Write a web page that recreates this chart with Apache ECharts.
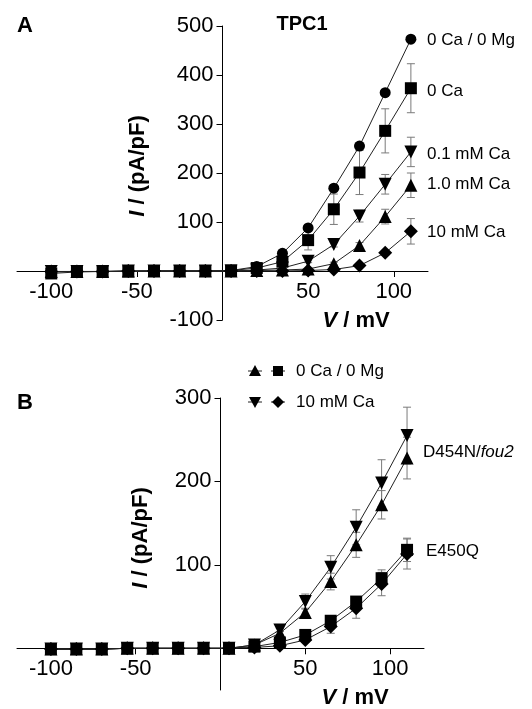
<!DOCTYPE html>
<html>
<head>
<meta charset="utf-8">
<script src="https://cdn.jsdelivr.net/npm/echarts@6/dist/echarts.min.js"></script>
<style>
html,body{margin:0;padding:0;background:#fff;}
#c{width:532px;height:709px;}
</style>
</head>
<body>
<div id="c"></div>
<script>
// ---- data ----
const voltage = [-100,-85,-70,-55,-40,-25,-10,5,20,35,50,65,80,95,110];

// Panel A (TPC1)
const a0Ca0Mg     = [-2,-1,-1,-1,0,0,0,1,9,36,88,169,255,364,473];
const a0Ca        = [-5,-2,-1,-1,0,0,0,1,6,19,63,126,201,286,373];
const a0CaErr     = [0,0,0,0,0,0,0,0,3,5,20,31,45,45,50];
const a01mMCa     = [-1,-1,-1,0,0,0,0,0,2,6,20,54,112,177,243];
const a01mMCaErr  = [0,0,0,0,0,0,0,0,0,0,3,5,12,20,30];
const a10mMCa1    = [-1,-1,-1,0,0,0,0,0,1,2,4,15,52,111,175];
const a10mMCa1Err = [0,0,0,0,0,0,0,0,0,0,0,3,6,15,25];
const a10mMCa     = [-1,-1,-1,0,0,0,0,0,0,0,1,3,11,37,81];
const a10mMCaErr  = [0,0,0,0,0,0,0,0,0,0,0,0,2,5,26];

// Panel B (mutants)
const bD454N0Ca     = [-1,-1,-1,0,0,0,0,0,4,18,43,80,124,172,228];
const bD454N0CaErr  = [0,0,0,0,0,0,0,0,0,2,5,10,15,17,25];
const bD454N10      = [-1,-1,-1,0,0,0,0,0,4,22,56,97,145,198,255];
const bD454N10Err   = [0,0,0,0,0,0,0,0,0,2,9,14,21,28,34];
const bE450Q0Ca     = [-1,-1,-1,0,0,0,0,0,2,7,16,33,56,84,118];
const bE450Q0CaErr  = [0,0,0,0,0,0,0,0,0,1,2,4,5,10,14];
const bE450Q10      = [-1,-1,-1,0,0,0,0,0,1,3,10,26,48,77,113];
const bE450Q10Err   = [0,0,0,0,0,0,0,0,0,1,3,8,12,14,18];

// tick labels
const xTickValues  = [-100,-50,50,100];
const yTickValuesA = [-100,100,200,300,400,500];
const yTickValuesB = [100,200,300];

// series labels
const seriesLabelsA = ['0 Ca / 0 Mg','0 Ca','0.1 mM Ca','1.0 mM Ca','10 mM Ca'];
const seriesLabelsB = ['D454N/{i|fou2}','E450Q'];
const legendLabelsB = ['0 Ca / 0 Mg','10 mM Ca'];

// ---- chart ----
const FONT = '"Liberation Sans", Arial, sans-serif';
const downTri = 'path://M0,0 L10,0 L5,9 Z';

const X_MIN = -120, X_MAX = 120;
const gridA = {left:17, top:26, width:411, height:294};
const gridB = {left:17, top:398, width:407, height:292};
const yRangeA = [-100, 500];
const yRangeB = [-50, 300];

function pts(arr){ return voltage.map((v,i)=>[v,arr[i]]); }
function errPts(arr,err){ return voltage.map((v,i)=>[v,arr[i],err[i]]); }

function lineSeries(idx, arr, symbol, size){
  return {
    type:'line', xAxisIndex:idx, yAxisIndex:idx, data:pts(arr),
    symbol:symbol, symbolSize:size, showAllSymbol:true,
    lineStyle:{color:'#222', width:1}, itemStyle:{color:'#000', borderWidth:0},
    z:5, silent:true
  };
}
function errSeries(idx, arr, err){
  return {
    type:'custom', xAxisIndex:idx, yAxisIndex:idx, data:errPts(arr,err), z:3, silent:true,
    renderItem:function(params, api){
      const x=api.value(0), y=api.value(1), e=api.value(2);
      if(!e) return null;
      const t=api.coord([x,y+e]), b=api.coord([x,y-e]);
      const hw=4;
      const st={stroke:'#7a7a7a', lineWidth:1};
      return {type:'group', children:[
        {type:'line', shape:{x1:t[0],y1:t[1],x2:b[0],y2:b[1]}, style:st},
        {type:'line', shape:{x1:t[0]-hw,y1:t[1],x2:t[0]+hw,y2:t[1]}, style:st},
        {type:'line', shape:{x1:b[0]-hw,y1:b[1],x2:b[0]+hw,y2:b[1]}, style:st}
      ]};
    }
  };
}

// axes crossing at zero: shift the axes inward by the position of zero
function xAxisCfg(idx, grid, yr){
  const zeroFromBottom = grid.height * (0 - yr[0]) / (yr[1] - yr[0]);
  return {
    type:'value', gridIndex:idx, min:X_MIN, max:X_MAX, position:'bottom', offset:-zeroFromBottom,
    axisLine:{show:true, onZero:false, lineStyle:{color:'#000', width:1}},
    axisTick:{show:true, length:6, customValues:xTickValues, lineStyle:{color:'#000'}},
    axisLabel:{show:true, customValues:xTickValues, fontSize:22, color:'#000', fontFamily:FONT, margin:10},
    splitLine:{show:false}
  };
}
function yAxisCfg(idx, grid, yr, ticks){
  const zeroFromLeft = grid.width * (0 - X_MIN) / (X_MAX - X_MIN);
  return {
    type:'value', gridIndex:idx, min:yr[0], max:yr[1], position:'left', offset:-zeroFromLeft,
    axisLine:{show:true, onZero:false, lineStyle:{color:'#000', width:1}},
    axisTick:{show:true, length:6, customValues:ticks, lineStyle:{color:'#000'}},
    axisLabel:{show:true, customValues:ticks, fontSize:22, color:'#000', fontFamily:FONT, margin:9},
    splitLine:{show:false}
  };
}

function txt(x,y,text,opts){
  return {type:'text', x:x, y:y, z:10, silent:true,
    style:Object.assign({text:text, fill:'#000', fontFamily:FONT, fontSize:17,
      align:'left', verticalAlign:'middle', textAlign:'left', textVerticalAlign:'middle',
      rich:{i:{fontStyle:'italic', fontFamily:FONT, fontSize:17, fill:'#000'}}}, opts||{})};
}
function titleTxt(x,y,text,rot){
  const o = {type:'text', x:x, y:y, z:10, silent:true, style:{text:text, fill:'#000', fontFamily:FONT, fontSize:22, fontWeight:'bold',
    align:'center', verticalAlign:'middle', textAlign:'center', textVerticalAlign:'middle',
    rich:{i:{fontStyle:'italic', fontWeight:'bold', fontFamily:FONT, fontSize:22, fill:'#000'}}}};
  if (rot) o.rotation = rot;
  return o;
}
function legLine(x, y){
  return {type:'line', z:10, silent:true, shape:{x1:x-7,y1:y,x2:x+7,y2:y}, style:{stroke:'#222', lineWidth:1}};
}

const chart = echarts.init(document.getElementById('c'), null, {renderer:'canvas'});

const graphics = [
  txt(17,26,'A',{fontSize:22, fontWeight:'bold'}),
  txt(17,403,'B',{fontSize:22, fontWeight:'bold'}),
  txt(302,24,'TPC1',{fontSize:20, fontWeight:'bold', align:'center', textAlign:'center'}),
  // series labels A
  txt(427,40,seriesLabelsA[0]),
  txt(427,91,seriesLabelsA[1]),
  txt(427,154,seriesLabelsA[2]),
  txt(427,184,seriesLabelsA[3]),
  txt(427,232,seriesLabelsA[4]),
  // series labels B
  txt(423,452,seriesLabelsB[0]),
  txt(426,551,seriesLabelsB[1]),
  // axis titles
  titleTxt(138,166,'{i|I} / (pA/pF)',Math.PI/2),
  titleTxt(356,321,'{i|V} / mV'),
  titleTxt(141,538,'{i|I} / (pA/pF)',Math.PI/2),
  titleTxt(355,698,'{i|V} / mV'),
  // legend B row 1
  legLine(255,371), legLine(278,371),
  {type:'polygon', z:11, silent:true, shape:{points:[[255,365],[261,376],[249,376]]}, style:{fill:'#000'}},
  {type:'rect', z:11, silent:true, shape:{x:273,y:366,width:10,height:10}, style:{fill:'#000'}},
  txt(296,371,legendLabelsB[0]),
  // legend B row 2
  legLine(255,402), legLine(278,402),
  {type:'polygon', z:11, silent:true, shape:{points:[[249,397],[261,397],[255,408]]}, style:{fill:'#000'}},
  {type:'polygon', z:11, silent:true, shape:{points:[[278,396],[284,402],[278,408],[272,402]]}, style:{fill:'#000'}},
  txt(296,402,legendLabelsB[1])
];

chart.setOption({
  animation:false,
  backgroundColor:'#fff',
  grid:[
    Object.assign({containLabel:false, outerBoundsMode:'none'}, gridA),
    Object.assign({containLabel:false, outerBoundsMode:'none'}, gridB)
  ],
  xAxis:[xAxisCfg(0, gridA, yRangeA), xAxisCfg(1, gridB, yRangeB)],
  yAxis:[yAxisCfg(0, gridA, yRangeA, yTickValuesA), yAxisCfg(1, gridB, yRangeB, yTickValuesB)],
  graphic:graphics,
  series:[
    errSeries(0,a0Ca,a0CaErr),
    errSeries(0,a01mMCa,a01mMCaErr),
    errSeries(0,a10mMCa1,a10mMCa1Err),
    errSeries(0,a10mMCa,a10mMCaErr),
    lineSeries(0,a10mMCa,'diamond',14),
    lineSeries(0,a10mMCa1,'triangle',13),
    lineSeries(0,a01mMCa,downTri,13),
    lineSeries(0,a0Ca,'rect',12),
    lineSeries(0,a0Ca0Mg,'circle',11),

    errSeries(1,bD454N0Ca,bD454N0CaErr),
    errSeries(1,bD454N10,bD454N10Err),
    errSeries(1,bE450Q0Ca,bE450Q0CaErr),
    errSeries(1,bE450Q10,bE450Q10Err),
    lineSeries(1,bE450Q10,'diamond',14),
    lineSeries(1,bE450Q0Ca,'rect',12),
    lineSeries(1,bD454N0Ca,'triangle',13),
    lineSeries(1,bD454N10,downTri,13)
  ]
});
</script>
</body>
</html>
